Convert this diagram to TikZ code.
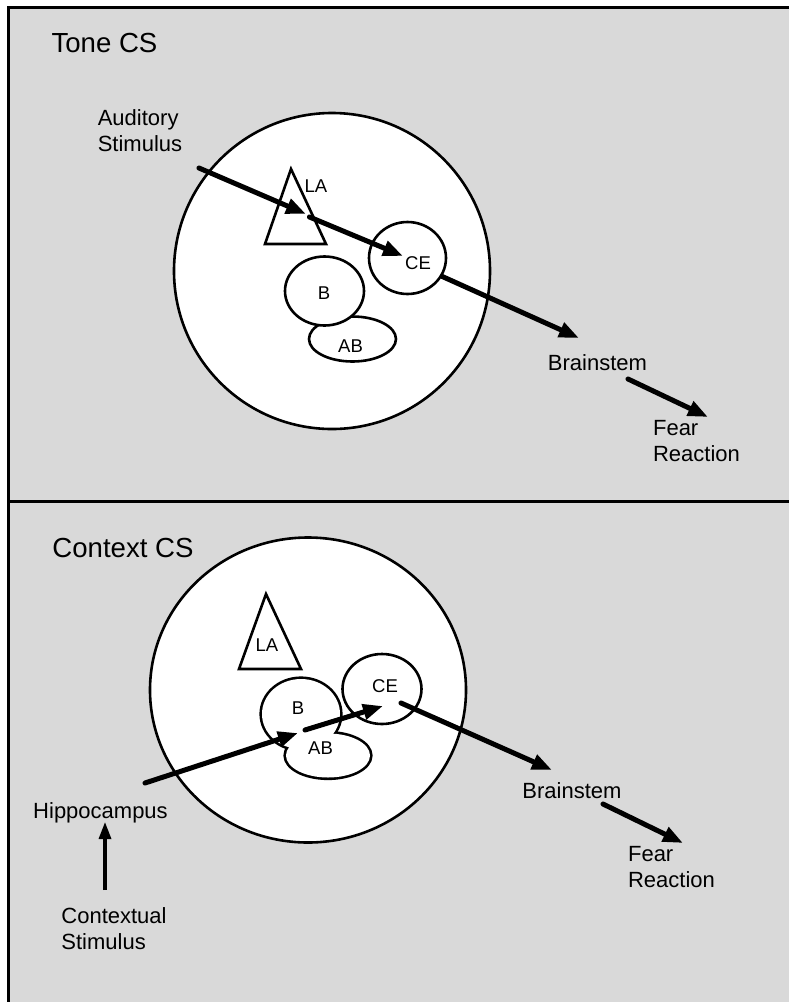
\documentclass[tikz,border=0pt]{standalone}
\usepackage{fontspec}
\setmainfont{Liberation Sans}
\usetikzlibrary{shapes.geometric,arrows.meta}

\begin{document}
\begin{tikzpicture}[x=0.5pt,y=-0.5pt,
        nucleus/.style={ellipse, draw, fill=white, line width=1.3pt, inner sep=0pt},
        panelname/.style={font=\fontsize{13.8pt}{16pt}\selectfont, inner sep=0pt},
        note/.style={font=\fontsize{11pt}{13pt}\selectfont, align=left, inner sep=0pt},
        nuctext/.style={font=\fontsize{9.25pt}{11pt}\selectfont, inner sep=0pt},
        flow/.style={line width=2.5pt, line cap=round, -{Triangle[length=10pt,width=7.5pt]}},
        thinflow/.style={line width=1.6pt, -{Triangle[length=8.5pt,width=6pt]}}]
        \definecolor{panelgray}{RGB}{217,217,217}
        \useasboundingbox (0,0) rectangle (789,1002);
        \fill[panelgray] (8.5,7.5) rectangle (789,1002);
        \draw[line width=1.4pt] (8.5,1002) -- (8.5,7.5) -- (789,7.5);
        \draw[line width=1.4pt] (8.5,501.5) -- (789,501.5);

        % tone CS
        \node (toneName) at (104.5,43) [panelname] {Tone CS};
        \node (toneAmy) at (332,271) [nucleus, minimum width=158pt, minimum height=158pt] {};
        \node (toneAB) at (352.5,339) [nucleus, minimum width=43.5pt, minimum height=22.5pt] {};
        \node (toneB) at (324.5,291) [nucleus, minimum width=39.5pt, minimum height=34.5pt] {};
        \node (toneCE) at (407.5,258) [nucleus, minimum width=38.5pt, minimum height=36pt] {};
        \draw[line width=1.3pt, fill=white] (291,169) -- (326,244) -- (265,244) -- cycle;
        \node (toneLAtext) at (316,186) [nuctext] {LA};
        \node (toneBtext) at (324,293) [nuctext] {B};
        \node (toneABtext) at (350.5,346) [nuctext] {AB};
        \node (toneCEtext) at (418,263) [nuctext] {CE};
        \node (toneStim) at (140,130.5) [note] {Auditory\\Stimulus};
        \node (toneBS) at (597.5,363) [note] {Brainstem};
        \node (toneFear) at (696.5,441) [note] {Fear\\Reaction};

        \coordinate (toneIn) at (199,168);
        \coordinate (toneLAin) at (306,214);
        \coordinate (toneLAout) at (309.5,217);
        \coordinate (toneCEin) at (403,256);
        \coordinate (toneBSin) at (579,338);
        \coordinate (toneBSout) at (628,379);
        \coordinate (toneFearin) at (708,417);
        \draw[flow] (toneIn) -- (toneLAin);
        \draw[flow] (toneLAout) -- (toneCEin);
        \draw[flow] (toneCE.-28) -- (toneBSin);
        \draw[flow] (toneBSout) -- (toneFearin);

        % context CS
        \node (ctxName) at (123,548) [panelname] {Context CS};
        \node (ctxAmy) at (308,690) [nucleus, minimum width=158pt, minimum height=152.5pt] {};
        \node (ctxB) at (301,714) [nucleus, line width=2.6pt, minimum width=39pt, minimum height=35pt] {};
        \node (ctxAB) at (328,755.5) [nucleus, line width=2.6pt, minimum width=42pt, minimum height=22pt] {};
        \fill[white] (ctxB.center) ellipse [x radius=19.5pt, y radius=17.5pt];
        \fill[white] (ctxAB.center) ellipse [x radius=21pt, y radius=11pt];
        \node (ctxCE) at (382,689) [nucleus, minimum width=39.5pt, minimum height=35pt] {};
        \draw[line width=1.3pt, fill=white] (266,594) -- (301,669) -- (239,669) -- cycle;
        \node (ctxLAtext) at (267,645) [nuctext] {LA};
        \node (ctxBtext) at (298,708) [nuctext] {B};
        \node (ctxABtext) at (320.5,748) [nuctext] {AB};
        \node (ctxCEtext) at (385,686) [nuctext] {CE};
        \node (ctxHippo) at (100.5,812.5) [note] {Hippocampus};
        \node (ctxStim) at (114,929) [note] {Contextual\\Stimulus};
        \node (ctxBS) at (572,790.5) [note] {Brainstem};
        \node (ctxFear) at (671.5,867) [note] {Fear\\Reaction};

        \coordinate (ctxIn) at (145,783);
        \coordinate (ctxBin) at (298,733);
        \coordinate (ctxBout) at (305,730);
        \coordinate (ctxCEin) at (383,706);
        \coordinate (ctxCEout) at (401,703);
        \coordinate (ctxBSin) at (552,770);
        \coordinate (ctxBSout) at (603,804);
        \coordinate (ctxFearin) at (683,843);
        \coordinate (ctxStimout) at (105,890);
        \coordinate (ctxHippoin) at (105,822);
        \draw[flow] (ctxIn) -- (ctxBin);
        \draw[flow] (ctxBout) -- (ctxCEin);
        \draw[flow] (ctxCEout) -- (ctxBSin);
        \draw[flow] (ctxBSout) -- (ctxFearin);
        \draw[thinflow] (ctxStimout) -- (ctxHippoin);
    \end{tikzpicture}
\end{document}
